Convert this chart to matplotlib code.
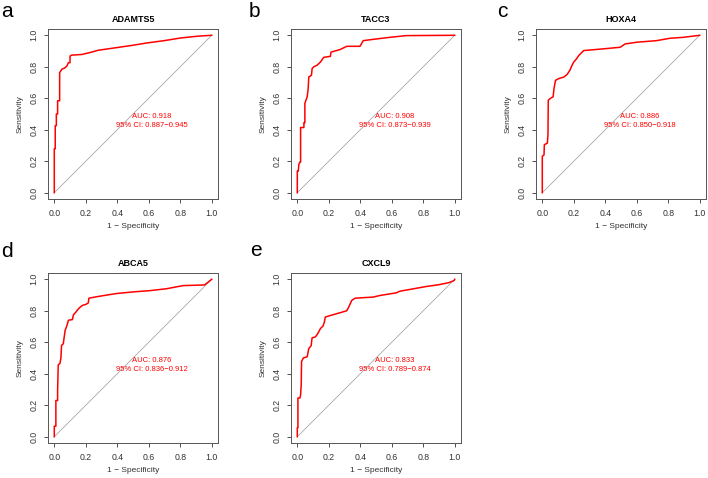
import matplotlib
matplotlib.use("Agg")
import matplotlib.pyplot as plt

plt.rcParams['font.family'] = ['Liberation Sans', 'DejaVu Sans']

# ROC curves: x = 1 - specificity, y = sensitivity
genes = ["ADAMTS5", "TACC3", "HOXA4", "ABCA5", "CXCL9"]
panel_letters = ["a", "b", "c", "d", "e"]
auc_text = ["0.918", "0.908", "0.886", "0.876", "0.833"]
ci_text = ["0.887\u22120.945", "0.873\u22120.939", "0.850\u22120.918",
           "0.836\u22120.912", "0.789\u22120.874"]

fpr_adamts5 = [0, 0, 0.006, 0.006, 0.013, 0.013, 0.021, 0.021, 0.034, 0.034, 0.048,
               0.069, 0.08, 0.09, 0.1, 0.1, 0.11, 0.174, 0.237, 0.279, 0.384, 0.488,
               0.593, 0.698, 0.803, 0.908, 1.0]
tpr_adamts5 = [0, 0.279, 0.279, 0.426, 0.426, 0.5, 0.5, 0.584, 0.584, 0.763, 0.784,
               0.794, 0.805, 0.826, 0.826, 0.868, 0.874, 0.878, 0.893, 0.905, 0.92, 0.935,
               0.952, 0.966, 0.983, 0.994, 1.0]

fpr_tacc3 = [0, 0, 0.006, 0.01, 0.017, 0.021, 0.021, 0.042, 0.042, 0.048, 0.048, 0.063,
             0.069, 0.073, 0.09, 0.094, 0.105, 0.126, 0.147, 0.168, 0.21, 0.214, 0.273,
             0.314, 0.398, 0.419, 0.472, 0.587, 0.692, 1.0]
tpr_tacc3 = [0, 0.137, 0.137, 0.18, 0.195, 0.195, 0.414, 0.414, 0.445, 0.445, 0.567, 0.61,
             0.66, 0.735, 0.746, 0.788, 0.8, 0.81, 0.83, 0.86, 0.866, 0.893, 0.91,
             0.93, 0.93, 0.966, 0.973, 0.987, 0.998, 1.0]

fpr_hoxa4 = [0, 0, 0.011, 0.013, 0.032, 0.036, 0.038, 0.053, 0.069, 0.074, 0.084, 0.105,
             0.137, 0.158, 0.175, 0.189, 0.2, 0.217, 0.232, 0.253, 0.263, 0.389, 0.495,
             0.526, 0.6, 0.726, 0.81, 0.895, 1.0]
tpr_hoxa4 = [0, 0.231, 0.24, 0.305, 0.315, 0.368, 0.588, 0.6, 0.61, 0.66, 0.714, 0.725,
             0.735, 0.752, 0.777, 0.81, 0.83, 0.85, 0.872, 0.893, 0.903, 0.914, 0.924,
             0.945, 0.956, 0.966, 0.981, 0.987, 1.0]

fpr_abca5 = [0, 0, 0.01, 0.01, 0.021, 0.021, 0.025, 0.036, 0.042, 0.046, 0.057, 0.063,
             0.069, 0.078, 0.09, 0.115, 0.122, 0.136, 0.151, 0.161, 0.178, 0.199, 0.216,
             0.22, 0.273, 0.335, 0.398, 0.503, 0.608, 0.713, 0.818, 0.954, 0.975, 1.0]
tpr_abca5 = [0, 0.067, 0.067, 0.23, 0.23, 0.29, 0.456, 0.466, 0.5, 0.58, 0.59, 0.634,
             0.676, 0.7, 0.74, 0.744, 0.775, 0.79, 0.81, 0.82, 0.834, 0.84, 0.85,
             0.88, 0.89, 0.9, 0.91, 0.92, 0.928, 0.94, 0.96, 0.964, 0.98, 1.0]

fpr_cxcl9 = [0, 0, 0.004, 0.004, 0.017, 0.021, 0.025, 0.027, 0.038, 0.063, 0.073, 0.088,
             0.094, 0.115, 0.13, 0.147, 0.164, 0.172, 0.178, 0.21, 0.273, 0.314, 0.325,
             0.346, 0.367, 0.482, 0.524, 0.629, 0.65, 0.734, 0.818, 0.901, 0.964, 0.996, 1.0]
tpr_cxcl9 = [0, 0.057, 0.057, 0.246, 0.246, 0.267, 0.33, 0.477, 0.5, 0.508, 0.56, 0.578,
             0.628, 0.634, 0.655, 0.687, 0.704, 0.729, 0.76, 0.77, 0.788, 0.8, 0.82,
             0.866, 0.88, 0.887, 0.897, 0.914, 0.924, 0.939, 0.954, 0.966, 0.979, 0.992, 1.0]

curves = [(fpr_adamts5, tpr_adamts5), (fpr_tacc3, tpr_tacc3), (fpr_hoxa4, tpr_hoxa4),
          (fpr_abca5, tpr_abca5), (fpr_cxcl9, tpr_cxcl9)]

ticks = [0.0, 0.2, 0.4, 0.6, 0.8, 1.0]
tick_labels = ["0.0", "0.2", "0.4", "0.6", "0.8", "1.0"]

fig = plt.figure(figsize=(7.08, 4.78), dpi=100)
W, H = 708, 478

# axes boxes in pixels: left, top
boxes = [(48, 29), (291, 29), (536, 29), (48, 273), (291, 273)]
letter_pos = [(1, 17), (249, 17), (497, 17), (1, 257), (250, 256)]
size = 170

for i, gene in enumerate(genes):
    left, top = boxes[i]
    ax = fig.add_axes([left / W, (H - top - size) / H, size / W, size / H])
    fpr, tpr = curves[i]

    ax.plot([0, 1], [0, 1], color="#a9a9a9", lw=0.6)
    ax.plot(fpr, tpr, color="red", lw=1.1)

    ax.text(0.62, 0.485, "AUC: " + auc_text[i], color="red", fontsize=5.5,
            ha="center", va="center")
    ax.text(0.62, 0.43, "95% CI: " + ci_text[i], color="red", fontsize=5.5,
            ha="center", va="center")

    ax.set_xlim(-0.04, 1.04)
    ax.set_ylim(-0.04, 1.04)
    ax.set_xticks(ticks)
    ax.set_xticklabels(tick_labels)
    ax.set_yticks(ticks)
    ax.set_yticklabels(tick_labels, rotation=90, va="center")
    ax.tick_params(labelsize=6.3, length=3, width=0.6, pad=4, colors="#333333")
    for sp in ax.spines.values():
        sp.set_color("#555555")
        sp.set_linewidth(0.7)

    ax.set_xlabel("1 \u2212 Specificity", fontsize=6, color="#333333", labelpad=4)
    ax.set_ylabel("Sensitivity", fontsize=6, color="#333333", labelpad=4)
    ax.set_title(gene, fontsize=6.5, fontweight="bold", pad=5)

    lx, ly = letter_pos[i]
    fig.text(lx / W, 1 - ly / H, panel_letters[i], fontsize=15, va="baseline", ha="left")

plt.savefig("out.png", dpi=100)
